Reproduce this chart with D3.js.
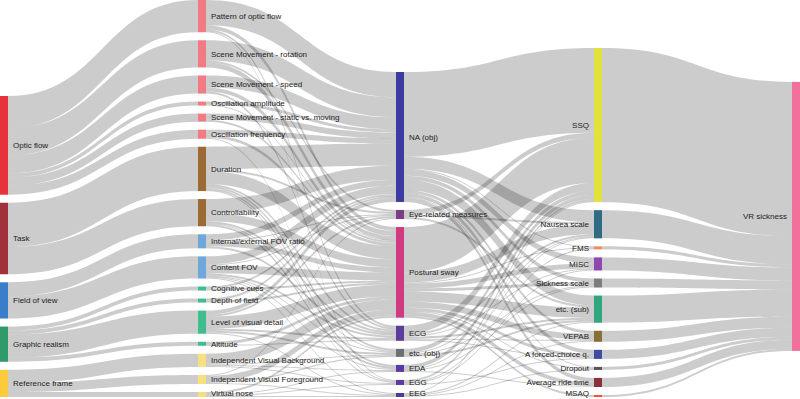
<!DOCTYPE html>
<html>
<head>
<meta charset="utf-8">
<script src="https://cdn.jsdelivr.net/npm/d3@7"></script>
<style>
  body { margin: 0; background: #fff; }
  svg { display: block; }
  text { font-family: "Liberation Sans", Arial, sans-serif; font-size: 8px; fill: #222; }
</style>
</head>
<body>
<div id="chart"></div>
<script>
// Sankey: factors -> sub factors -> objective measures -> subjective measures -> VR sickness

// Columns (top to bottom order)
const factors = ['Optic flow', 'Task', 'Field of view', 'Graphic realism', 'Reference frame']
const subFactors = ['Pattern of optic flow', 'Scene Movement - rotation', 'Scene Movement - speed',
  'Oscillation amplitude', 'Scene Movement - static vs. moving', 'Oscillation frequency',
  'Duration', 'Controllability', 'Internal/external FOV ratio', 'Content FOV',
  'Cognitive cues', 'Depth of field', 'Level of visual detail', 'Altitude',
  'Independent Visual Background', 'Independent Visual Foreground', 'Virtual nose']
const objMeasures = ['NA (obj)', 'Eye-related measures', 'Postural sway', 'ECG', 'etc. (obj)', 'EDA', 'EGG', 'EEG']
const subMeasures = ['SSQ', 'Nausea scale', 'FMS', 'MISC', 'Sickness scale', 'etc. (sub)', 'VEPAB',
  'A forced-choice q.', 'Dropout', 'Average ride time', 'MSAQ']
const outcome = ['VR sickness']

// Flows (source, target, value)
const factorLinks = [
  ['Optic flow', 'Pattern of optic flow', 32], ['Optic flow', 'Scene Movement - rotation', 27],
  ['Optic flow', 'Scene Movement - speed', 18], ['Optic flow', 'Oscillation amplitude', 4],
  ['Optic flow', 'Scene Movement - static vs. moving', 8], ['Optic flow', 'Oscillation frequency', 9],
  ['Task', 'Duration', 44], ['Task', 'Controllability', 27],
  ['Field of view', 'Internal/external FOV ratio', 14], ['Field of view', 'Content FOV', 22],
  ['Graphic realism', 'Cognitive cues', 4], ['Graphic realism', 'Depth of field', 4],
  ['Graphic realism', 'Level of visual detail', 23], ['Graphic realism', 'Altitude', 4],
  ['Reference frame', 'Independent Visual Background', 13], ['Reference frame', 'Independent Visual Foreground', 9],
  ['Reference frame', 'Virtual nose', 5]
]
const subFactorLinks = [
  ['Pattern of optic flow', 'NA (obj)', 25], ['Pattern of optic flow', 'Postural sway', 4],
  ['Pattern of optic flow', 'ECG', 2], ['Pattern of optic flow', 'EGG', 1],
  ['Scene Movement - rotation', 'NA (obj)', 20], ['Scene Movement - rotation', 'Eye-related measures', 2],
  ['Scene Movement - rotation', 'Postural sway', 5],
  ['Scene Movement - speed', 'NA (obj)', 12], ['Scene Movement - speed', 'Postural sway', 4],
  ['Scene Movement - speed', 'ECG', 2],
  ['Oscillation amplitude', 'NA (obj)', 3], ['Oscillation amplitude', 'Postural sway', 1],
  ['Scene Movement - static vs. moving', 'NA (obj)', 6], ['Scene Movement - static vs. moving', 'Postural sway', 2],
  ['Oscillation frequency', 'NA (obj)', 5], ['Oscillation frequency', 'Postural sway', 3],
  ['Oscillation frequency', 'EGG', 1],
  ['Duration', 'NA (obj)', 22], ['Duration', 'Eye-related measures', 2], ['Duration', 'Postural sway', 13],
  ['Duration', 'ECG', 2], ['Duration', 'etc. (obj)', 2], ['Duration', 'EDA', 2], ['Duration', 'EGG', 1],
  ['Controllability', 'NA (obj)', 14], ['Controllability', 'Postural sway', 8], ['Controllability', 'ECG', 2],
  ['Controllability', 'etc. (obj)', 1], ['Controllability', 'EDA', 2],
  ['Internal/external FOV ratio', 'NA (obj)', 6], ['Internal/external FOV ratio', 'Eye-related measures', 1],
  ['Internal/external FOV ratio', 'Postural sway', 5], ['Internal/external FOV ratio', 'ECG', 2],
  ['Content FOV', 'NA (obj)', 8], ['Content FOV', 'Eye-related measures', 1], ['Content FOV', 'Postural sway', 8],
  ['Content FOV', 'ECG', 2], ['Content FOV', 'etc. (obj)', 1], ['Content FOV', 'EDA', 1], ['Content FOV', 'EEG', 1],
  ['Cognitive cues', 'NA (obj)', 2], ['Cognitive cues', 'Postural sway', 2],
  ['Depth of field', 'NA (obj)', 2], ['Depth of field', 'Postural sway', 2],
  ['Level of visual detail', 'NA (obj)', 4], ['Level of visual detail', 'Eye-related measures', 2],
  ['Level of visual detail', 'Postural sway', 12], ['Level of visual detail', 'ECG', 2],
  ['Level of visual detail', 'etc. (obj)', 2], ['Level of visual detail', 'EEG', 1],
  ['Altitude', 'Postural sway', 3], ['Altitude', 'ECG', 1],
  ['Independent Visual Background', 'Postural sway', 10], ['Independent Visual Background', 'etc. (obj)', 1],
  ['Independent Visual Background', 'EDA', 1], ['Independent Visual Background', 'EGG', 1],
  ['Independent Visual Foreground', 'Eye-related measures', 1], ['Independent Visual Foreground', 'Postural sway', 6],
  ['Independent Visual Foreground', 'etc. (obj)', 1], ['Independent Visual Foreground', 'EEG', 1],
  ['Virtual nose', 'Postural sway', 2], ['Virtual nose', 'EDA', 1], ['Virtual nose', 'EGG', 1],
  ['Virtual nose', 'EEG', 1]
]
const measureLinks = [
  ['NA (obj)', 'SSQ', 84], ['NA (obj)', 'Nausea scale', 12], ['NA (obj)', 'FMS', 1], ['NA (obj)', 'MISC', 6],
  ['NA (obj)', 'Sickness scale', 4], ['NA (obj)', 'etc. (sub)', 10], ['NA (obj)', 'VEPAB', 3],
  ['NA (obj)', 'A forced-choice q.', 4], ['NA (obj)', 'Dropout', 1], ['NA (obj)', 'Average ride time', 4],
  ['Eye-related measures', 'SSQ', 5], ['Eye-related measures', 'Nausea scale', 2], ['Eye-related measures', 'etc. (sub)', 2],
  ['Postural sway', 'SSQ', 45], ['Postural sway', 'Nausea scale', 10], ['Postural sway', 'FMS', 1],
  ['Postural sway', 'MISC', 5], ['Postural sway', 'Sickness scale', 3], ['Postural sway', 'etc. (sub)', 10],
  ['Postural sway', 'VEPAB', 6], ['Postural sway', 'A forced-choice q.', 3], ['Postural sway', 'Dropout', 1],
  ['Postural sway', 'Average ride time', 4], ['Postural sway', 'MSAQ', 2],
  ['ECG', 'SSQ', 8], ['ECG', 'Nausea scale', 2], ['ECG', 'MISC', 1], ['ECG', 'etc. (sub)', 2],
  ['ECG', 'VEPAB', 1], ['ECG', 'A forced-choice q.', 1],
  ['etc. (obj)', 'SSQ', 4], ['etc. (obj)', 'Nausea scale', 1], ['etc. (obj)', 'Sickness scale', 1], ['etc. (obj)', 'etc. (sub)', 2],
  ['EDA', 'SSQ', 4], ['EDA', 'Nausea scale', 1], ['EDA', 'Sickness scale', 1], ['EDA', 'Average ride time', 1],
  ['EGG', 'SSQ', 2], ['EGG', 'FMS', 1], ['EGG', 'MISC', 1], ['EGG', 'A forced-choice q.', 1],
  ['EEG', 'SSQ', 1], ['EEG', 'VEPAB', 1], ['EEG', 'etc. (sub)', 1], ['EEG', 'Dropout', 1]
]
const outcomeLinks = [
  ['SSQ', 'VR sickness', 153], ['Nausea scale', 'VR sickness', 28], ['FMS', 'VR sickness', 3],
  ['MISC', 'VR sickness', 13], ['Sickness scale', 'VR sickness', 9], ['etc. (sub)', 'VR sickness', 27],
  ['VEPAB', 'VR sickness', 11], ['A forced-choice q.', 'VR sickness', 9], ['Dropout', 'VR sickness', 3],
  ['Average ride time', 'VR sickness', 9], ['MSAQ', 'VR sickness', 2]
]

// Node colours
const nodeColors = {
  'Optic flow': '#e8323b', 'Task': '#a1323b', 'Field of view': '#3a7ec9', 'Graphic realism': '#2f9b6b',
  'Reference frame': '#fbcb3c',
  'Pattern of optic flow': '#f27a83', 'Scene Movement - rotation': '#f27a83', 'Scene Movement - speed': '#f27a83',
  'Oscillation amplitude': '#f27a83', 'Scene Movement - static vs. moving': '#f27a83', 'Oscillation frequency': '#f27a83',
  'Duration': '#9c6a35', 'Controllability': '#9c6a35',
  'Internal/external FOV ratio': '#6fa7dd', 'Content FOV': '#6fa7dd',
  'Cognitive cues': '#40bd8c', 'Depth of field': '#40bd8c', 'Level of visual detail': '#40bd8c', 'Altitude': '#40bd8c',
  'Independent Visual Background': '#f7de7e', 'Independent Visual Foreground': '#f7de7e', 'Virtual nose': '#f7de7e',
  'NA (obj)': '#3d3ba2', 'Eye-related measures': '#7b3f88', 'Postural sway': '#d03a80', 'ECG': '#5b3c9c',
  'etc. (obj)': '#6e6e6e', 'EDA': '#5a3ba0', 'EGG': '#5a3ba0', 'EEG': '#503b9c',
  'SSQ': '#e3e23b', 'Nausea scale': '#2f6b85', 'FMS': '#f28a5f', 'MISC': '#8f46b0', 'Sickness scale': '#7d7d7d',
  'etc. (sub)': '#30a67c', 'VEPAB': '#857036', 'A forced-choice q.': '#3d4da2', 'Dropout': '#555555',
  'Average ride time': '#8c2f3d', 'MSAQ': '#f2562f',
  'VR sickness': '#f2719a'
}

// Layout settings
const width = 800
const height = 399
const nodeWidth = 8
const nodePadding = 8
const extentTop = 0
const extentBottom = 397
// share of free space left above each column
const columnAlign = [1, 1, 1, 1, 0.64]

const columns = [factors, subFactors, objMeasures, subMeasures, outcome]
const allLinks = [].concat(factorLinks, subFactorLinks, measureLinks, outcomeLinks)

// Build nodes
let nodeByName = {}
let nodes = []
columns.forEach((col, ci) => {
  col.forEach((name, i) => {
    let n = { name: name, layer: ci, order: i, sourceLinks: [], targetLinks: [] }
    nodeByName[name] = n
    nodes.push(n)
  })
})

let links = allLinks.map(([s, t, v], i) => {
  let l = { source: nodeByName[s], target: nodeByName[t], value: v, index: i }
  l.source.sourceLinks.push(l)
  l.target.targetLinks.push(l)
  return l
})

nodes.forEach(n => {
  n.value = Math.max(d3.sum(n.sourceLinks, l => l.value), d3.sum(n.targetLinks, l => l.value))
})

// Horizontal positions
let x = d3.scaleLinear().domain([0, columns.length - 1]).range([0, width - nodeWidth])
nodes.forEach(n => {
  n.x0 = x(n.layer)
  n.x1 = n.x0 + nodeWidth
})

// Vertical scale shared by all columns
let nodeColumns = columns.map(col => col.map(name => nodeByName[name]))
let ky = d3.min(nodeColumns, col =>
  (extentBottom - extentTop - (col.length - 1) * nodePadding) / d3.sum(col, n => n.value))
let y = d3.scaleLinear().domain([0, 1]).range([0, ky])

nodeColumns.forEach((col, ci) => {
  let total = d3.sum(col, n => y(n.value)) + (col.length - 1) * nodePadding
  let yy = extentTop + (extentBottom - extentTop - total) * columnAlign[ci]
  col.forEach(n => {
    n.y0 = yy
    n.y1 = yy + y(n.value)
    yy = n.y1 + nodePadding
  })
})

links.forEach(l => { l.width = y(l.value) })

// Link band edges inside nodes
nodes.forEach(n => {
  n.sourceLinks.sort((a, b) => (a.target.y0 - b.target.y0) || (a.index - b.index))
  n.targetLinks.sort((a, b) => (a.source.y0 - b.source.y0) || (a.index - b.index))
  let ys = n.y0
  n.sourceLinks.forEach(l => { l.sy0 = ys; ys += l.width; l.sy1 = ys })
  let yt = n.y0
  n.targetLinks.forEach(l => { l.ty0 = yt; yt += l.width; l.ty1 = yt })
})

// Filled ribbon between two horizontal curves
function ribbon(d) {
  let x0 = d.source.x1
  let x1 = d.target.x0
  let xm = (x0 + x1) / 2
  let p = d3.path()
  p.moveTo(x0, d.sy0)
  p.bezierCurveTo(xm, d.sy0, xm, d.ty0, x1, d.ty0)
  p.lineTo(x1, d.ty1)
  p.bezierCurveTo(xm, d.ty1, xm, d.sy1, x0, d.sy1)
  p.closePath()
  return p.toString()
}

// Drawing
let svg = d3.select('#chart')
  .append('svg')
  .attr('width', width)
  .attr('height', height)

svg.append('g')
  .attr('fill', '#000')
  .attr('fill-opacity', 0.2)
  .selectAll('path')
  .data(links)
  .enter()
  .append('path')
    .attr('d', ribbon)

svg.append('g')
  .selectAll('rect')
  .data(nodes)
  .enter()
  .append('rect')
    .attr('x', d => d.x0)
    .attr('y', d => d.y0)
    .attr('width', d => d.x1 - d.x0)
    .attr('height', d => Math.max(1, d.y1 - d.y0))
    .attr('fill', d => nodeColors[d.name])

svg.append('g')
  .selectAll('text')
  .data(nodes)
  .enter()
  .append('text')
    .attr('x', d => d.x0 < width / 2 ? d.x1 + 5 : d.x0 - 5)
    .attr('y', d => Math.min((d.y0 + d.y1) / 2, height - 5.5))
    .attr('dy', '0.35em')
    .attr('text-anchor', d => d.x0 < width / 2 ? 'start' : 'end')
    .text(d => d.name)
</script>
</body>
</html>
